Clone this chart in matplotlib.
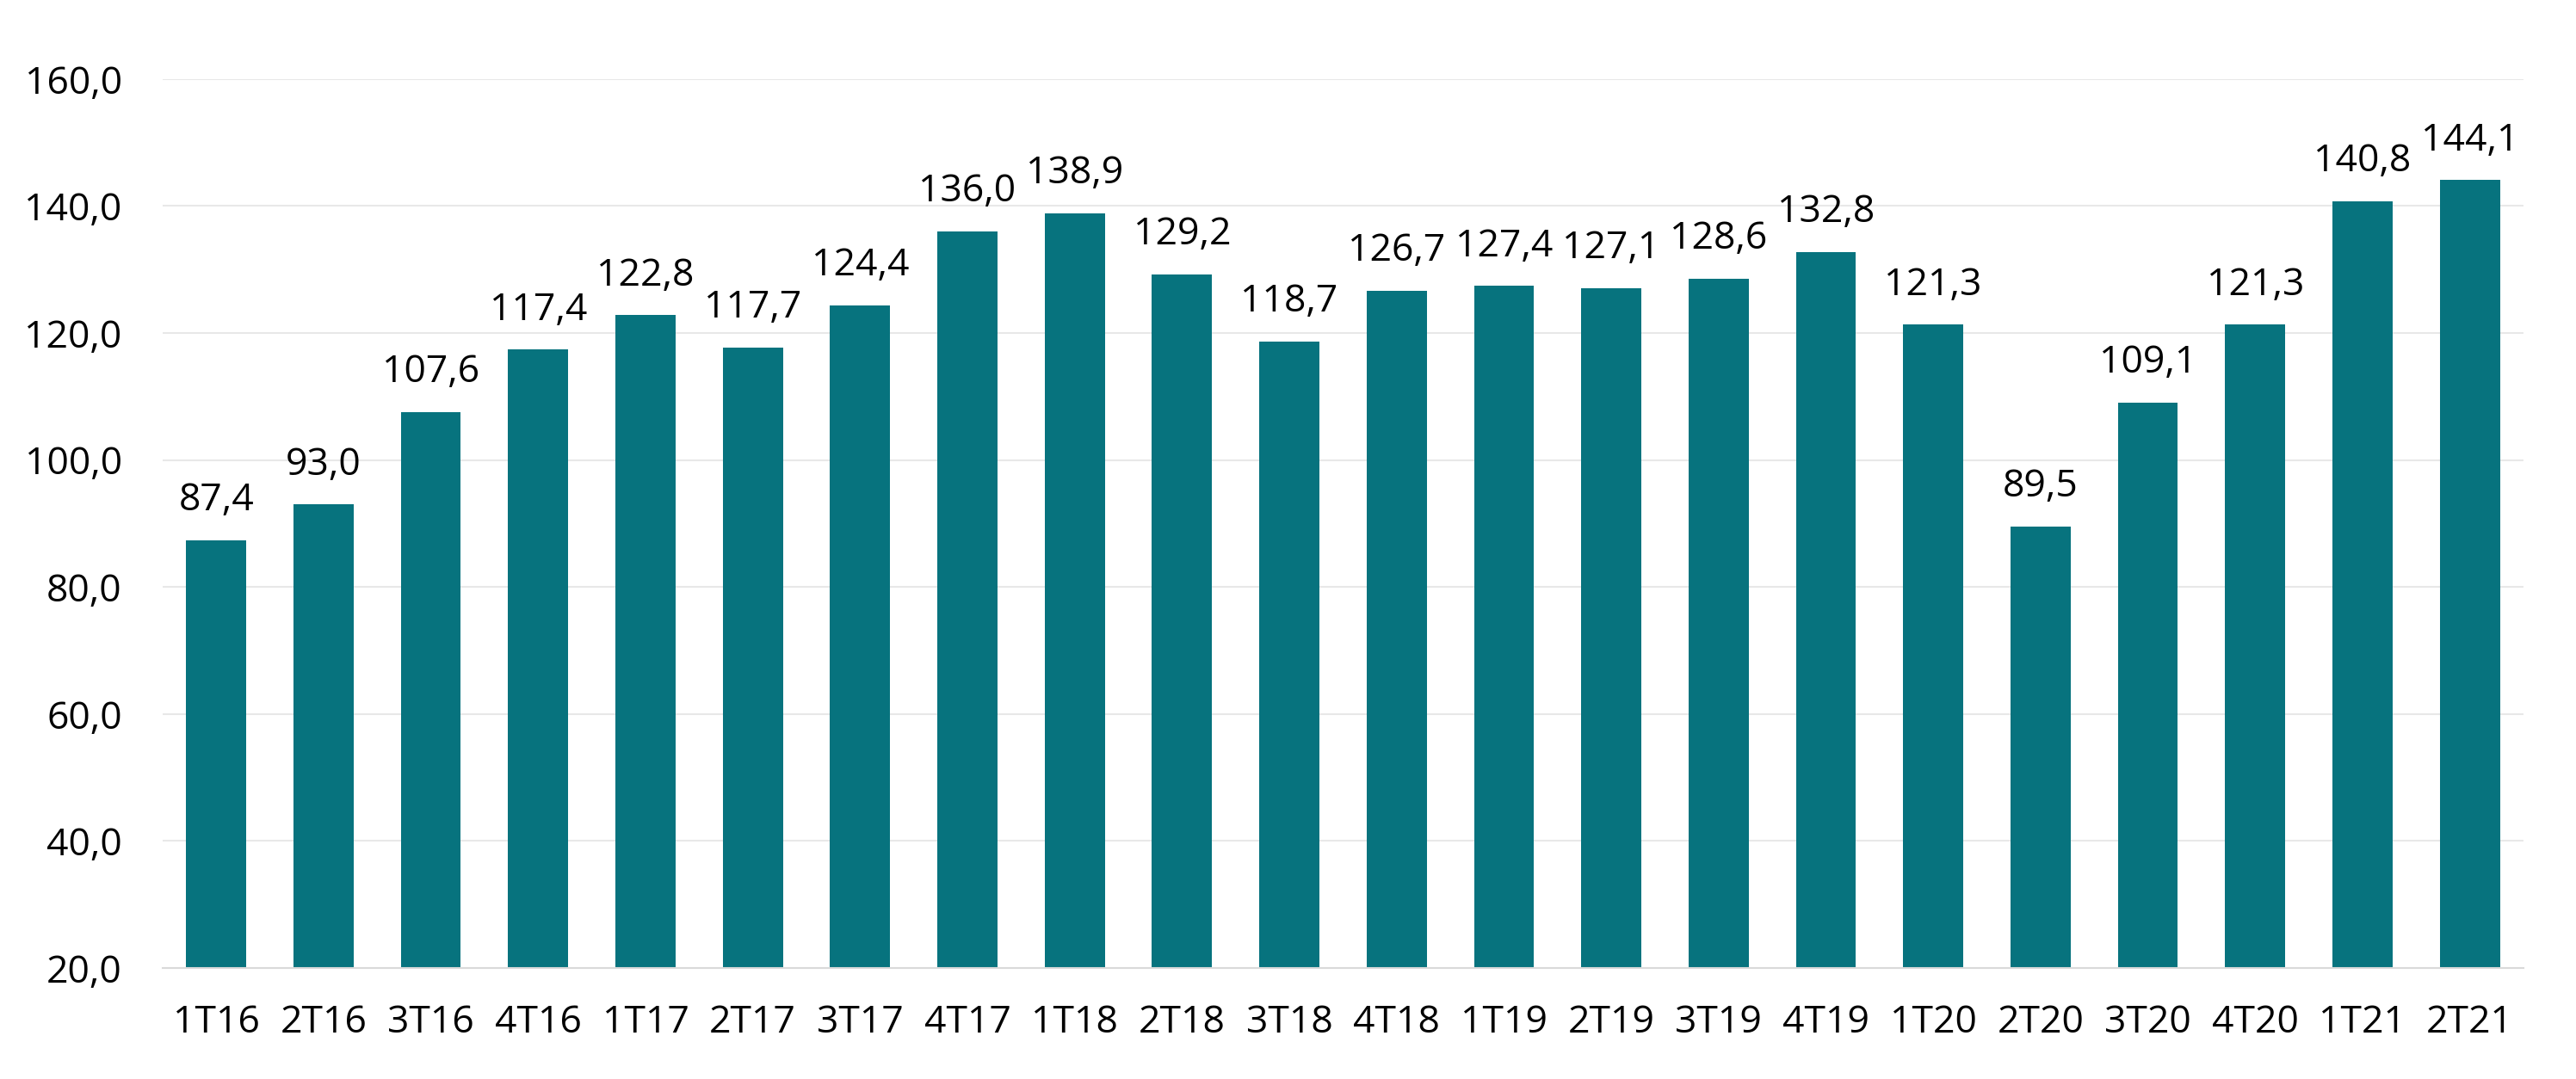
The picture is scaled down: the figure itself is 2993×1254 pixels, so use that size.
import matplotlib.pyplot as plt

# trimestres e valores
trimestres = ['1T16', '2T16', '3T16', '4T16', '1T17', '2T17', '3T17', '4T17',
              '1T18', '2T18', '3T18', '4T18', '1T19', '2T19', '3T19', '4T19',
              '1T20', '2T20', '3T20', '4T20', '1T21', '2T21']
valores = [87.4, 93.0, 107.6, 117.4, 122.8, 117.7, 124.4, 136.0,
           138.9, 129.2, 118.7, 126.7, 127.4, 127.1, 128.6, 132.8,
           121.3, 89.5, 109.1, 121.3, 140.8, 144.1]
ticks_y = [20, 40, 60, 80, 100, 120, 140, 160]

plt.rcParams['font.family'] = ['Open Sans', 'DejaVu Sans']

fig = plt.figure(figsize=(29.93, 12.54), dpi=100)
ax = fig.add_axes([0.0631, 0.1029, 0.9165, 0.8238])

x = range(len(trimestres))
ax.bar(x, valores, width=0.56, color='#07737E')

# rótulos de dados
for xi, v in zip(x, valores):
    ax.annotate(f'{v:.1f}'.replace('.', ','), (xi, v), xytext=(0, 25),
                textcoords='offset points', ha='center', va='baseline', fontsize=32)

ax.set_ylim(20, 160)
ax.set_xlim(-0.5, len(trimestres) - 0.5)
ax.set_yticks(ticks_y)
ax.set_yticklabels([f'{t:.1f}'.replace('.', ',') for t in ticks_y])
ax.set_xticks(list(x))
ax.set_xticklabels(trimestres)
ax.tick_params(axis='both', length=0, labelsize=32)
ax.tick_params(axis='y', pad=34)
ax.tick_params(axis='x', pad=30)

ax.grid(axis='y', color='#E8E8E8', linewidth=1.5)
ax.set_axisbelow(True)
for s in ['top', 'right', 'left']:
    ax.spines[s].set_visible(False)
ax.spines['bottom'].set_color('#D9D9D9')
ax.spines['bottom'].set_linewidth(1.5)

fig.savefig('out.png', dpi=100)
